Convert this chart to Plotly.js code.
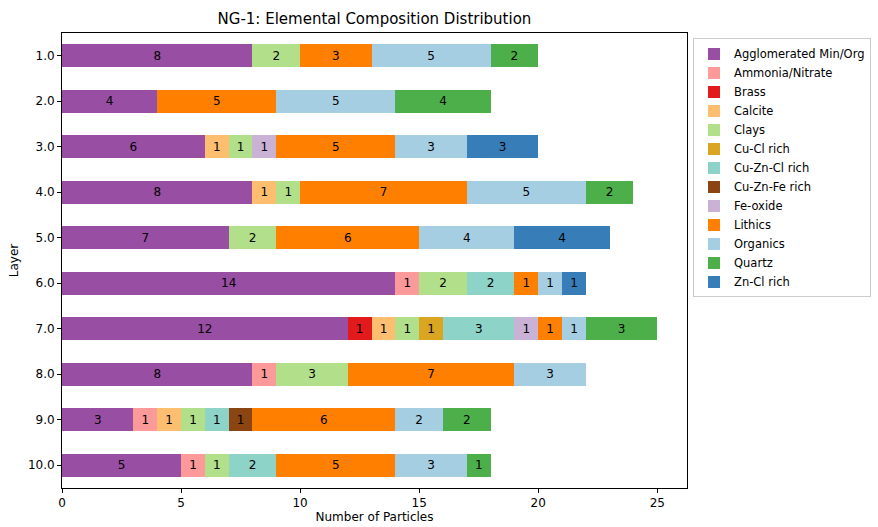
<!DOCTYPE html>
<html><head><meta charset="utf-8">
<script src="https://cdn.plot.ly/plotly-3.0.1.min.js"></script>
<style>body{margin:0;background:#fff}#chart{width:878px;height:527px}</style>
</head><body><div id="chart"></div>
<script>
const layers = ["1.0","2.0","3.0","4.0","5.0","6.0","7.0","8.0","9.0","10.0"];
const categories = ["Agglomerated Min/Org","Ammonia/Nitrate","Brass","Calcite","Clays","Cu-Cl rich","Cu-Zn-Cl rich","Cu-Zn-Fe rich","Fe-oxide","Lithics","Organics","Quartz","Zn-Cl rich"];
const colors = ["#984ea3","#fb9a99","#e31a1c","#fdbf6f","#b2df8a","#daa520","#8dd3c7","#8b4513","#cab2d6","#ff7f00","#a6cee3","#4daf4a","#377eb8"];
// values per category, one per layer (null = absent)
const agglomerated = [8,4,6,8,7,14,12,8,3,5];
const ammonia      = [null,null,null,null,null,1,null,1,1,1];
const brass        = [null,null,null,null,null,null,1,null,null,null];
const calcite      = [null,null,1,1,null,null,1,null,1,null];
const clays        = [2,null,1,1,2,2,1,3,1,1];
const cuCl         = [null,null,null,null,null,null,1,null,null,null];
const cuZnCl       = [null,null,null,null,null,2,3,null,1,2];
const cuZnFe       = [null,null,null,null,null,null,null,null,1,null];
const feOxide      = [null,null,1,null,null,null,1,null,null,null];
const lithics      = [3,5,5,7,6,1,1,7,6,5];
const organics     = [5,5,3,5,4,1,1,3,2,3];
const quartz       = [2,4,null,2,null,null,3,null,2,1];
const znCl         = [null,null,3,null,4,1,null,null,null,null];
const series = [agglomerated,ammonia,brass,calcite,clays,cuCl,cuZnCl,cuZnFe,feOxide,lithics,organics,quartz,znCl];

const traces = categories.map((name,i)=>({
  type:'bar', orientation:'h', name:name,
  x: series[i], y: layers,
  marker:{color:colors[i], line:{width:0}},
  text: series[i].map(v=> v==null?'':String(v)),
  textposition:'inside', insidetextanchor:'middle',
  textfont:{color:'#000', size:12, family:'DejaVu Sans'},
  hoverinfo:'x+name'
}));

const layout = {
  width:878, height:527,
  margin:{l:62, r:0, t:33, b:39},
  barmode:'stack', bargap:0.5,
  paper_bgcolor:'#fff', plot_bgcolor:'#fff',
  font:{family:'DejaVu Sans', size:12, color:'#000'},
  title:{text:'NG-1: Elemental Composition Distribution', font:{size:15, family:'DejaVu Sans'}, x:0.4265, xanchor:'center', y:0.965, yanchor:'middle'},
  xaxis:{domain:[0,0.766], range:[0,26.25], tickvals:[0,5,10,15,20,25], ticks:'outside', ticklen:4, tickcolor:'#000',
    showline:true, linecolor:'#000', linewidth:1, mirror:true, showgrid:false, zeroline:false,
    title:{text:'Number of Particles', font:{size:12}, standoff:3}, tickfont:{size:12}},
  yaxis:{type:'category', range:[9.5,-0.5], ticks:'outside', ticklen:4, tickcolor:'#000',
    showline:true, linecolor:'#000', linewidth:1, mirror:true, showgrid:false, zeroline:false,
    title:{text:'Layer', font:{size:12}, standoff:6}, tickfont:{size:12}},
  legend:{x:0.7733, xanchor:'left', y:0.988, yanchor:'top', bordercolor:'#ccc', borderwidth:1,
    font:{size:11.5}, tracegroupgap:0, traceorder:'normal', itemwidth:30},
  showlegend:true
};
Plotly.newPlot('chart', traces, layout, {displayModeBar:false, staticPlot:true});
</script></body></html>
